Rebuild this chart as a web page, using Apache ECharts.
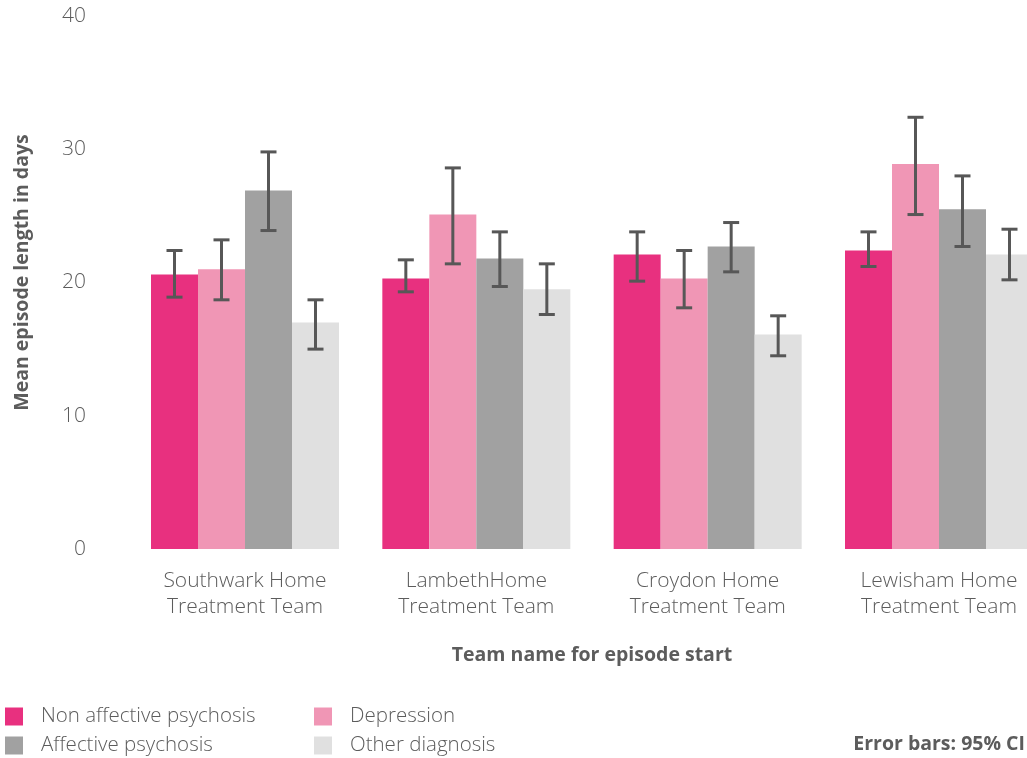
<!DOCTYPE html>
<html>
<head>
<meta charset="utf-8">
<script src="https://cdn.jsdelivr.net/npm/echarts@6/dist/echarts.min.js"></script>
<style>
html,body{margin:0;padding:0;background:#fff;}
#chart{width:1027px;height:758px;}
</style>
</head>
<body>
<div id="chart"></div>
<script>
const categories = ['Southwark Home\nTreatment Team', 'LambethHome\nTreatment Team', 'Croydon Home\nTreatment Team', 'Lewisham Home\nTreatment Team'];
const seriesNames = ['Non affective psychosis', 'Depression', 'Affective psychosis', 'Other diagnosis'];
const colors = ['#E8307F', '#F096B5', '#A1A1A1', '#E0E0E0'];

const nonAffective = [20.6, 20.3, 22.1, 22.4];
const nonAffectiveLow = [18.9, 19.3, 20.1, 21.2];
const nonAffectiveHigh = [22.4, 21.7, 23.8, 23.8];

const depression = [21.0, 25.1, 20.3, 28.9];
const depressionLow = [18.7, 21.4, 18.1, 25.1];
const depressionHigh = [23.2, 28.6, 22.4, 32.4];

const affective = [26.9, 21.8, 22.7, 25.5];
const affectiveLow = [23.9, 19.7, 20.8, 22.7];
const affectiveHigh = [29.8, 23.8, 24.5, 28.0];

const other = [17.0, 19.5, 16.1, 22.1];
const otherLow = [15.0, 17.6, 14.5, 20.2];
const otherHigh = [18.7, 21.4, 17.5, 24.0];

const yTicks = [0, 10, 20, 30, 40];

const values = [nonAffective, depression, affective, other];
const lows = [nonAffectiveLow, depressionLow, affectiveLow, otherLow];
const highs = [nonAffectiveHigh, depressionHigh, affectiveHigh, otherHigh];

const BAR_W = 47;
const textColor = '#5c5c5c';
const font = "'Open Sans', 'Noto Sans', sans-serif";

const chart = echarts.init(document.getElementById('chart'), null, {renderer: 'canvas'});

const series = [];
seriesNames.forEach((name, i) => {
  series.push({
    name: name,
    type: 'bar',
    data: values[i],
    barWidth: BAR_W,
    barGap: '0%',
    clip: false,
    itemStyle: {color: colors[i]},
    emphasis: {disabled: true},
    z: 2
  });
});
seriesNames.forEach((name, i) => {
  series.push({
    type: 'custom',
    name: name + ' CI',
    data: categories.map((c, j) => [j, lows[i][j], highs[i][j]]),
    z: 5,
    clip: false,
    silent: true,
    renderItem: function (params, api) {
      const idx = api.value(0);
      const lo = api.coord([idx, api.value(1)]);
      const hi = api.coord([idx, api.value(2)]);
      const x = lo[0] + (i - 1.5) * BAR_W;
      const cap = 8;
      const style = {stroke: '#575757', lineWidth: 3};
      return {
        type: 'group',
        children: [
          {type: 'line', shape: {x1: x, y1: hi[1], x2: x, y2: lo[1]}, style: style},
          {type: 'line', shape: {x1: x - cap, y1: hi[1], x2: x + cap, y2: hi[1]}, style: style},
          {type: 'line', shape: {x1: x - cap, y1: lo[1], x2: x + cap, y2: lo[1]}, style: style}
        ]
      };
    }
  });
});

const legendBase = {
  itemWidth: 18, itemHeight: 18, icon: 'rect',
  textStyle: {color: textColor, fontSize: 20.5, fontWeight: 300, fontFamily: font, padding: [0, 0, 0, 13]},
  selectedMode: false, padding: 0
};

chart.setOption({
  backgroundColor: '#ffffff',
  animation: false,
  grid: {left: 245, right: 88, top: 16, bottom: 209, containLabel: false},
  xAxis: {
    type: 'category',
    data: categories,
    boundaryGap: false,
    axisLine: {show: false},
    axisTick: {show: false},
    splitLine: {show: false},
    axisLabel: {color: textColor, fontSize: 21, fontWeight: 300, fontFamily: font, lineHeight: 26, margin: 19, interval: 0},
    name: 'Team name for episode start',
    nameLocation: 'middle',
    nameGap: 96,
    nameTextStyle: {color: textColor, fontSize: 19.5, fontWeight: 'bold', fontFamily: font}
  },
  yAxis: {
    type: 'value',
    min: yTicks[0],
    max: yTicks[yTicks.length - 1],
    interval: 10,
    axisLine: {show: false},
    axisTick: {show: false},
    splitLine: {show: false},
    axisLabel: {color: textColor, fontSize: 21, fontWeight: 300, fontFamily: font, margin: 159},
    name: 'Mean episode length in days',
    nameLocation: 'middle',
    nameGap: 213,
    nameTextStyle: {color: textColor, fontSize: 19.5, fontWeight: 'bold', fontFamily: font, padding: [0, 0, 0, 20]}
  },
  legend: [
    Object.assign({left: 5, top: 706, data: [seriesNames[0]]}, legendBase),
    Object.assign({left: 314, top: 706, data: [seriesNames[1]]}, legendBase),
    Object.assign({left: 5, top: 735, data: [seriesNames[2]]}, legendBase),
    Object.assign({left: 314, top: 735, data: [seriesNames[3]]}, legendBase)
  ],
  graphic: [{
    type: 'text',
    right: 2,
    top: 734,
    style: {text: 'Error bars: 95% CI', fill: textColor, font: "bold 19.5px 'Open Sans', 'Noto Sans', sans-serif"}
  }],
  series: series
});
</script>
</body>
</html>
